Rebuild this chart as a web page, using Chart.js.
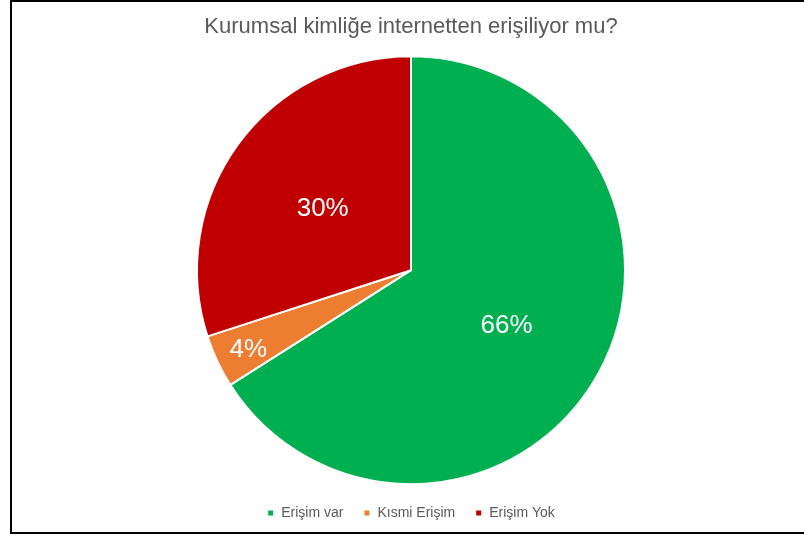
<!DOCTYPE html>
<html>
<head>
<meta charset="utf-8">
<script src="https://cdn.jsdelivr.net/npm/chart.js@4"></script>
<style>
  html, body { margin: 0; padding: 0; background: #fff; }
  #wrap { position: relative; width: 804px; height: 536px; overflow: hidden; }
  #frame { position: absolute; left: 10px; top: 0; width: 800px; height: 534px; box-sizing: border-box;
           border-top: 2px solid #000; border-left: 2px solid #000; border-bottom: 2px solid #000; pointer-events: none; }
  canvas { position: absolute; left: 0; top: 0; }
</style>
</head>
<body>
<div id="wrap">
  <canvas id="c" width="804" height="536"></canvas>
  <div id="frame"></div>
</div>
<script>
const titleText = 'Kurumsal kimliğe internetten erişiliyor mu?';
const categories = ['Erişim var', 'Kısmi Erişim', 'Erişim Yok'];
const values = [66, 4, 30];
const colors = ['#00B050', '#ED7D31', '#C00000'];
const labelRadiusFactor = [0.51, 0.84, 0.51];

const dataLabels = {
  id: 'dataLabels',
  afterDatasetsDraw(chart) {
    const ctx = chart.ctx;
    const meta = chart.getDatasetMeta(0);
    const total = values.reduce((a, b) => a + b, 0);
    ctx.save();
    ctx.fillStyle = '#ffffff';
    ctx.font = '26px "Liberation Sans", Arial, sans-serif';
    ctx.textAlign = 'center';
    ctx.textBaseline = 'middle';
    meta.data.forEach((arc, i) => {
      const p = arc.getProps(['x', 'y', 'startAngle', 'endAngle', 'outerRadius'], true);
      const mid = (p.startAngle + p.endAngle) / 2;
      const r = p.outerRadius * labelRadiusFactor[i];
      const x = p.x + Math.cos(mid) * r;
      const y = p.y + Math.sin(mid) * r + 3;
      ctx.fillText(Math.round(values[i] / total * 100) + '%', x, y);
    });
    ctx.restore();
  }
};

new Chart(document.getElementById('c'), {
  type: 'pie',
  data: {
    labels: categories,
    datasets: [{
      data: values,
      backgroundColor: colors,
      borderColor: '#ffffff',
      borderWidth: 2,
      radius: 214
    }]
  },
  options: {
    responsive: false,
    animation: false,
    layout: { padding: { left: 18, right: 0, top: 0, bottom: 6 } },
    plugins: {
      tooltip: { enabled: false },
      title: {
        display: true,
        text: titleText,
        color: '#595959',
        font: { family: '"Liberation Sans", Arial, sans-serif', size: 22, weight: 'normal' },
        padding: { top: 14, bottom: 14 }
      },
      legend: {
        position: 'bottom',
        labels: {
          usePointStyle: true,
          pointStyle: 'rect',
          boxWidth: 7,
          boxHeight: 7,
          padding: 20,
          color: '#595959',
          font: { family: '"Liberation Sans", Arial, sans-serif', size: 14 }
        }
      }
    }
  },
  plugins: [dataLabels]
});
</script>
</body>
</html>
